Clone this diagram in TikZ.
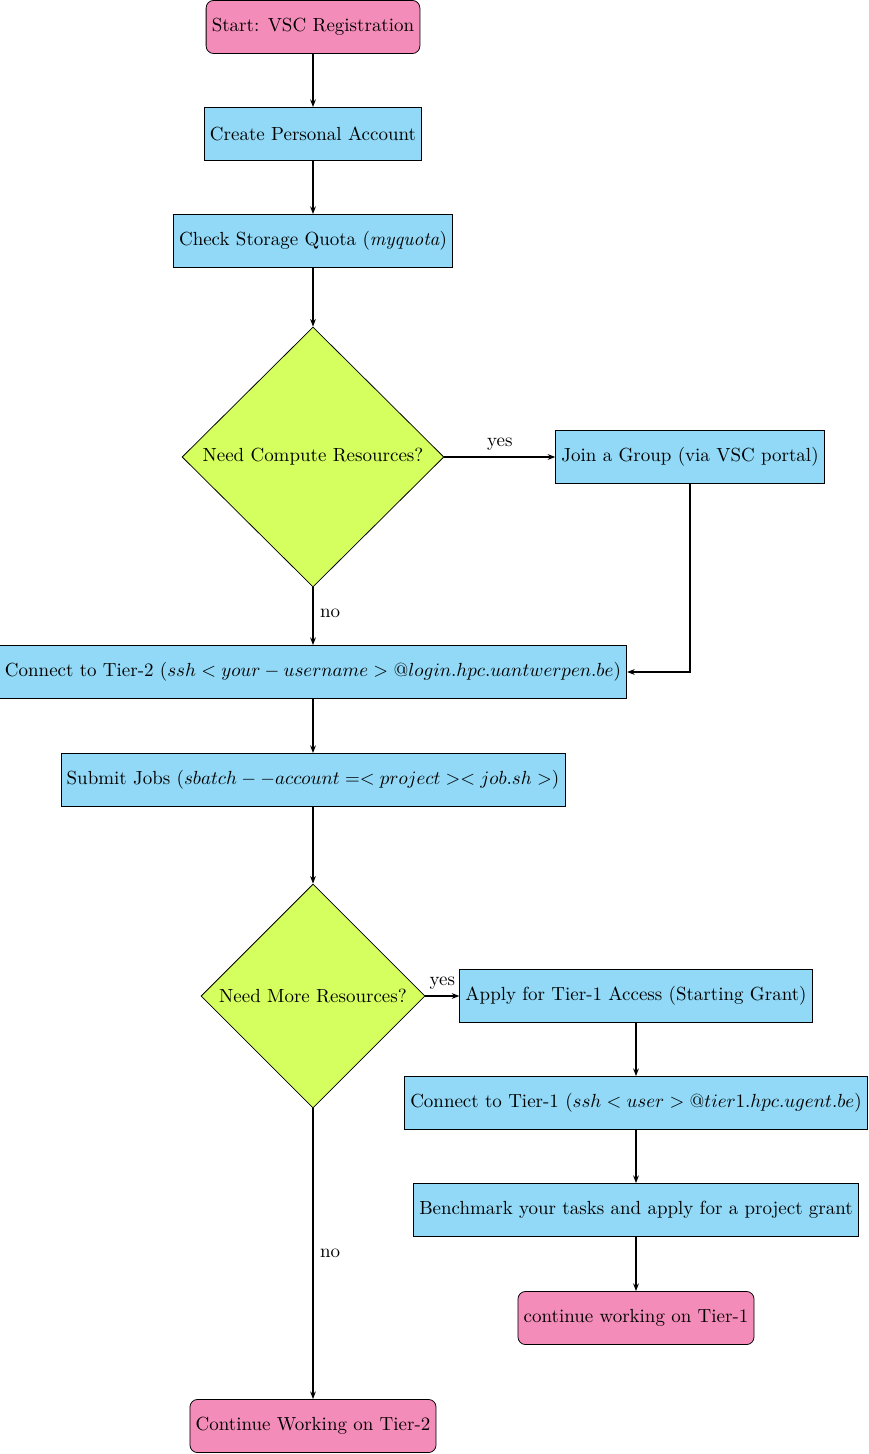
\documentclass[tikz,border=0pt]{standalone}
\usetikzlibrary{shapes.geometric,arrows.meta}
\definecolor{pinkc}{HTML}{F48CBA}
\definecolor{bluec}{HTML}{91D9F6}
\definecolor{greenc}{HTML}{D5FF5E}
\begin{document}
\begin{tikzpicture}[x=0.527pt,y=-0.527pt,
 boxn/.style={draw,fill=bluec,minimum height=28pt,inner xsep=3pt},
 termn/.style={draw,fill=pinkc,rounded corners=4pt,minimum height=28pt,inner xsep=3pt},
 decn/.style={draw,fill=greenc,diamond,inner sep=0pt},
 arr/.style={draw,thick,-{Stealth[length=4pt]}}]
\useasboundingbox (0,0) rectangle (868,1454);
\node[termn] (s) at (313,27) {Start: VSC Registration};
\node[boxn] (a) at (313,134) {Create Personal Account};
\node[boxn] (q) at (313,241) {Check Storage Quota (\textit{myquota})};
\node[decn,minimum width=138pt,minimum height=137pt] (d1) at (313,457) {Need Compute Resources?};
\node[boxn] (g) at (690,457) {Join a Group (via VSC portal)};
\node[boxn] (t2) at (313,672) {Connect to Tier-2 ($ssh<your-username>@login.hpc.uantwerpen.be$)};
\node[boxn] (j) at (313,780) {Submit Jobs ($sbatch --account=<project><job.sh>$)};
\node[decn,minimum width=118pt,minimum height=118pt] (d2) at (313,996) {Need More Resources?};
\node[boxn] (ap) at (636,996) {Apply for Tier-1 Access (Starting Grant)};
\node[boxn] (t1) at (636,1103) {Connect to Tier-1 ($ssh<user>@tier1.hpc.ugent.be$)};
\node[boxn] (b) at (636,1210) {Benchmark your tasks and apply for a project grant};
\node[termn] (c1) at (636,1318) {continue working on Tier-1};
\node[termn] (c2) at (313,1426) {Continue Working on Tier-2};
\draw[arr] (s) -- (a);
\draw[arr] (a) -- (q);
\draw[arr] (q) -- (d1);
\draw[arr] (d1) -- node[above]{yes} (g);
\draw[arr] (d1) -- node[right,pos=0.45]{no} (t2);
\draw[arr] (g.south) |- (t2.east);
\draw[arr] (t2) -- (j);
\draw[arr] (j) -- (d2);
\draw[arr] (d2) -- node[above]{yes} (ap);
\draw[arr] (ap) -- (t1);
\draw[arr] (t1) -- (b);
\draw[arr] (b) -- (c1);
\draw[arr] (d2) -- node[right]{no} (c2);
\end{tikzpicture}
\end{document}
